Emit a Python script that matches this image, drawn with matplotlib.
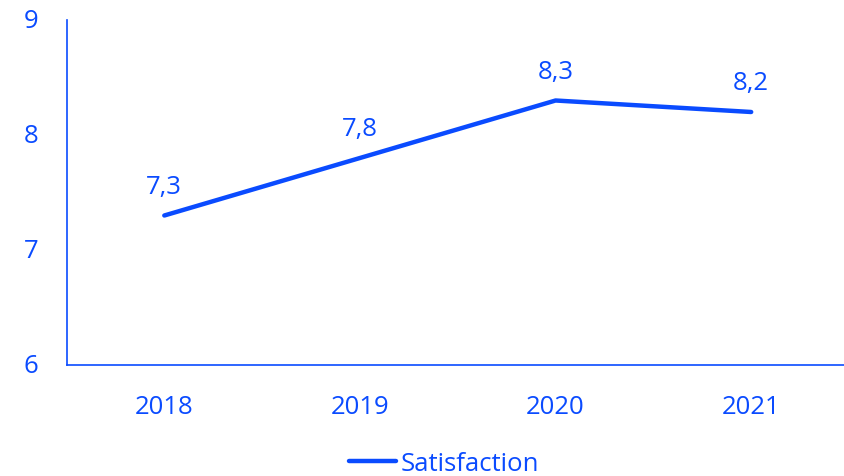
import matplotlib
matplotlib.use("Agg")
import matplotlib.pyplot as plt
from matplotlib.lines import Line2D

years = ["2018", "2019", "2020", "2021"]
satisfaction = [7.3, 7.8, 8.3, 8.2]
value_labels = ["7,3", "7,8", "8,3", "8,2"]
y_ticks = [6, 7, 8, 9]

BLUE = "#0A4BFF"
FS = 18.5
plt.rcParams['font.family'] = ['Open Sans', 'DejaVu Sans']

fig = plt.figure(figsize=(8.45, 4.77), dpi=100)
ax = fig.add_axes([66.5/845, 1 - 366/477, (849 - 66.5)/845, (366 - 21)/477])

x = list(range(len(years)))
ax.plot(x, satisfaction, color=BLUE, lw=3.2, solid_capstyle='round', label="Satisfaction")
for xi, v, lab in zip(x, satisfaction, value_labels):
    ax.annotate(lab, (xi, v), xytext=(0, 16.5), textcoords='offset points',
                ha='center', va='baseline', color=BLUE, fontsize=FS)

ax.set_xlim(-0.5, 3.5)
ax.set_ylim(6, 9)
ax.set_xticks(x)
ax.set_xticklabels(years)
ax.set_yticks(y_ticks)
ax.tick_params(axis='both', length=0, labelsize=FS, colors=BLUE)
ax.tick_params(axis='x', pad=21)
ax.tick_params(axis='y', pad=20)
for lab in ax.get_yticklabels():
    lab.set_verticalalignment('center')
for s in ['top', 'right']:
    ax.spines[s].set_visible(False)
for s in ['left', 'bottom']:
    ax.spines[s].set_color(BLUE)
    ax.spines[s].set_linewidth(1.2)

handle = Line2D([], [], color=BLUE, lw=3.2, solid_capstyle='round')
fig.legend([handle], ["Satisfaction"], loc='center', bbox_to_anchor=(444/845, 1 - 464.5/477),
           frameon=False, fontsize=FS, labelcolor=BLUE, handlelength=1.83, handletextpad=0.15,
           borderpad=0.1)

fig.savefig("out.png", dpi=100)
